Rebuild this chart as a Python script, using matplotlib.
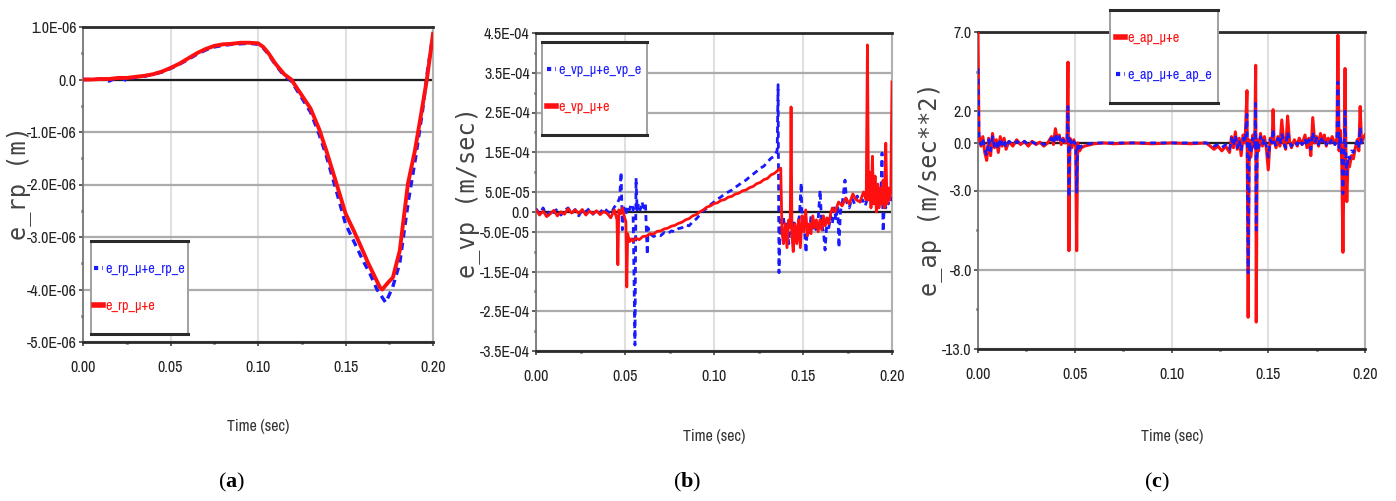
import matplotlib
matplotlib.use("Agg")
import matplotlib.pyplot as plt
from matplotlib.lines import Line2D
from matplotlib.patches import Rectangle
from matplotlib import font_manager
from matplotlib.font_manager import FontProperties

W, H = 1396, 501
plt.rcParams['mathtext.fontset'] = 'custom'
plt.rcParams['mathtext.rm'] = 'Liberation Serif'
plt.rcParams['mathtext.bf'] = 'Liberation Serif:bold'

RED = '#ff1010'
BLUE = '#1a1aff'


def narrow_font_path():
    """Return the file of an installed narrow/condensed sans face, if any."""
    rank = {'condensed': 0, 'semi-condensed': 1, 'extra-condensed': 2, 'ultra-condensed': 3}
    best, best_key = None, None
    for f in font_manager.fontManager.ttflist:
        nm = f.name.lower()
        st = str(f.stretch).lower()
        w = f.weight if isinstance(f.weight, int) else {'normal': 400, 'regular': 400}.get(str(f.weight), 0)
        if f.style != 'normal' or w != 400:
            continue
        if 'mono' in nm or 'serif' in nm.replace('sans', ''):
            continue
        if 'narrow' in nm:
            key = (-1, nm)
        elif st in rank:
            key = (rank[st], nm)
        elif 'condensed' in nm:
            key = (0, nm)
        else:
            continue
        if best_key is None or key < best_key:
            best, best_key = f.fname, key
    return best


NARROW_PATH = narrow_font_path()


def narrow(size):
    if NARROW_PATH:
        return FontProperties(fname=NARROW_PATH, size=size)
    return FontProperties(family='Liberation Sans', size=size * 0.8)


# ---------------- data: position error (x1e-6 m) ----------------
t_rp_red = [0.000, 0.005, 0.010, 0.015, 0.020, 0.025, 0.030, 0.035, 0.040, 0.045,
            0.050, 0.055, 0.060, 0.065, 0.070, 0.075, 0.080, 0.085, 0.090, 0.095,
            0.100, 0.103, 0.106, 0.110, 0.115, 0.119, 0.125, 0.130, 0.135, 0.139,
            0.145, 0.150, 0.155, 0.158, 0.163, 0.1697, 0.171, 0.174, 0.1771, 0.181,
            0.1857, 0.1897, 0.194, 0.1965, 0.200]
v_rp_red = [0.00, 0.00, 0.01, 0.01, 0.03, 0.03, 0.05, 0.07, 0.10, 0.15,
            0.22, 0.30, 0.40, 0.50, 0.58, 0.64, 0.67, 0.68, 0.70, 0.70,
            0.69, 0.62, 0.50, 0.30, 0.10, 0.00, -0.30, -0.55, -0.95, -1.35,
            -2.00, -2.55, -2.90, -3.12, -3.50, -3.96, -4.00, -3.88, -3.77, -3.26,
            -1.98, -1.35, -0.50, 0.00, 0.87]

t_rp_blue = [0.000, 0.005, 0.010, 0.015, 0.020, 0.025, 0.030, 0.035, 0.040, 0.045,
             0.050, 0.055, 0.060, 0.065, 0.070, 0.075, 0.080, 0.085, 0.090, 0.095,
             0.100, 0.103, 0.106, 0.110, 0.115, 0.119, 0.125, 0.130, 0.135, 0.139,
             0.145, 0.150, 0.155, 0.160, 0.164, 0.168, 0.173, 0.177, 0.181,
             0.186, 0.190, 0.194, 0.197, 0.200]
v_rp_blue = [0.00, 0.00, 0.01, -0.03, 0.05, -0.02, 0.05, 0.06, 0.10, 0.14,
             0.21, 0.29, 0.38, 0.48, 0.56, 0.62, 0.65, 0.67, 0.68, 0.69,
             0.67, 0.60, 0.48, 0.28, 0.07, -0.03, -0.35, -0.62, -1.05, -1.45,
             -2.15, -2.75, -3.10, -3.45, -3.70, -4.00, -4.25, -3.95, -3.50,
             -2.30, -1.50, -0.60, 0.20, 0.85]

# ---------------- data: velocity error (x1e-4 m/s) ----------------
t_vp_red = [0.000, 0.002, 0.004, 0.006, 0.008, 0.010, 0.012, 0.014, 0.016, 0.018,
            0.020, 0.022, 0.024, 0.026, 0.028, 0.030, 0.032, 0.034, 0.036, 0.038,
            0.040, 0.042, 0.044,
            0.0455, 0.0460, 0.0465, 0.0475, 0.0485, 0.0495, 0.0505, 0.0510, 0.0515, 0.0525,
            0.0535, 0.0545, 0.056, 0.058, 0.060, 0.062, 0.064, 0.066, 0.068, 0.070,
            0.072, 0.074, 0.076, 0.078, 0.080, 0.082, 0.084, 0.086, 0.088, 0.090,
            0.092, 0.094, 0.096, 0.098, 0.100, 0.102, 0.104, 0.106, 0.108, 0.110,
            0.112, 0.114, 0.116, 0.118, 0.120, 0.122, 0.124, 0.126, 0.128, 0.130,
            0.132, 0.134, 0.136, 0.1375, 0.1382,
            0.1390, 0.1400, 0.1410, 0.1420, 0.1428, 0.1433, 0.1438, 0.1445, 0.1455, 0.1465,
            0.1475, 0.1485, 0.1495, 0.1505, 0.1515, 0.1525, 0.1535, 0.1545, 0.1555, 0.1565,
            0.1575, 0.1585, 0.1595, 0.1605, 0.1615, 0.1625, 0.1635, 0.1645, 0.1655, 0.1665,
            0.1680, 0.1700, 0.1720, 0.1740, 0.1760, 0.1780, 0.1800, 0.1820, 0.1840, 0.1855,
            0.1862, 0.1868, 0.1875, 0.1882, 0.1890, 0.1897, 0.1905, 0.1912, 0.1920, 0.1927,
            0.1935, 0.1942, 0.1950, 0.1957, 0.1965, 0.1972, 0.1980, 0.1987, 0.1993, 0.2000]
v_vp_red = [0.05, -0.08, 0.02, -0.12, -0.05, 0.04, -0.10, 0.00, -0.06, 0.08,
            -0.03, 0.05, -0.04, 0.06, -0.08, 0.02, -0.05, 0.03, -0.07, 0.01,
            -0.04, -0.15, 0.05,
            -0.20, -1.33, 0.05, -0.05, 0.10, -0.10, -0.25, -1.89, -0.55, -0.75,
            -0.68, -0.74, -0.66, -0.70, -0.62, -0.61, -0.55, -0.56, -0.49, -0.48,
            -0.43, -0.41, -0.36, -0.34, -0.29, -0.26, -0.20, -0.17, -0.10, -0.07,
            0.00, 0.05, 0.12, 0.15, 0.21, 0.23, 0.29, 0.31, 0.37, 0.39,
            0.45, 0.47, 0.53, 0.55, 0.61, 0.64, 0.71, 0.74, 0.81, 0.84,
            0.93, 0.97, 1.05, 1.10, -0.50,
            -0.80, -0.30, -0.90, -0.20, -0.40, 2.64, -0.60, -1.00, -0.30, -0.80,
            -0.20, -0.90, -0.10, -0.50, 0.05, -0.60, -0.30, -0.55, -0.10, -0.40,
            -0.20, -0.50, -0.20, -0.45, -0.10, -0.35, -0.15, -0.30, -0.05, 0.10,
            0.00, 0.25, 0.15, 0.35, 0.20, 0.45, 0.30, 0.25, 0.50, 0.30,
            4.20, 0.30, 1.00, 0.10, 1.40, 0.20, 0.90, 0.00, 0.70, 0.10,
            0.60, 0.20, 0.80, 0.10, 1.73, 0.20, 0.60, 0.30, 0.50, 3.27]

t_vp_blue = [0.000, 0.002, 0.004, 0.006, 0.008, 0.010, 0.012, 0.014, 0.016, 0.018,
             0.020, 0.022, 0.024, 0.026, 0.028, 0.030, 0.032, 0.034, 0.036, 0.038,
             0.040, 0.042, 0.044,
             0.0455, 0.0470, 0.0478, 0.0485, 0.0495, 0.0505, 0.0515, 0.0525, 0.0535, 0.0545,
             0.0556, 0.0562, 0.0568, 0.0575, 0.0585, 0.0595, 0.0605, 0.0615, 0.0625, 0.0630,
             0.0640,
             0.066, 0.068, 0.070, 0.072, 0.074, 0.076, 0.078, 0.080, 0.082, 0.084,
             0.086, 0.088, 0.090, 0.092, 0.094, 0.096, 0.098, 0.100, 0.102, 0.104,
             0.106, 0.108, 0.110, 0.112, 0.114, 0.116, 0.118, 0.120, 0.122, 0.124,
             0.126, 0.128, 0.130, 0.132, 0.134, 0.1355,
             0.1360, 0.1365, 0.1372, 0.1380, 0.1390, 0.1400, 0.1410, 0.1420, 0.1430, 0.1440,
             0.1450, 0.1460, 0.1470, 0.1480, 0.1490, 0.1495, 0.1505, 0.1517, 0.1525, 0.1535,
             0.1545, 0.1555, 0.1565, 0.1575, 0.1585, 0.1596, 0.1605, 0.1615, 0.1624, 0.1635,
             0.1645, 0.1655, 0.1665, 0.1675, 0.1685, 0.1695, 0.1702, 0.1710, 0.1720, 0.1736,
             0.1745, 0.1760, 0.1775, 0.1790, 0.1805, 0.1820, 0.1835, 0.1850, 0.1865, 0.1880,
             0.1895, 0.1910, 0.1925, 0.1937, 0.1944, 0.1950, 0.1958, 0.1965, 0.1972, 0.1980,
             0.1988, 0.1995, 0.2000]
v_vp_blue = [0.08, -0.05, 0.10, -0.10, 0.04, -0.02, 0.08, -0.08, 0.03, 0.10,
             -0.04, 0.06, -0.10, 0.05, 0.00, 0.09, -0.06, 0.04, -0.03, 0.10,
             0.02, -0.05, 0.12,
             0.20, 0.35, 1.00, -0.45, 0.10, -0.05, 0.15, 0.05, 0.20, 0.10,
             -3.35, 0.85, 0.05, 0.20, 0.05, 0.25, 0.10, 0.20, -1.08, -0.40,
             -0.55,
             -0.62, -0.58, -0.60, -0.52, -0.55, -0.48, -0.50, -0.42, -0.40, -0.33,
             -0.35, -0.25, -0.18, -0.08, 0.02, 0.10, 0.18, 0.25, 0.32, 0.38,
             0.45, 0.50, 0.55, 0.62, 0.68, 0.75, 0.80, 0.88, 0.95, 1.02,
             1.10, 1.15, 1.25, 1.35, 1.40, 1.55,
             3.20, -1.53, -0.20, -0.60, -0.10, -0.70, -0.30, -0.80, -0.15, -0.55,
             -0.20, -0.65, -0.30, -0.10, 0.73, -0.40, -0.20, -1.03, -0.30, -0.60,
             -0.10, -0.45, -0.25, -0.50, -0.20, 0.55, -0.30, -0.50, -0.96, -0.20,
             -0.40, -0.10, -0.30, 0.10, -0.20, 0.15, -0.90, 0.00, 0.20, 0.80,
             0.25, 0.10, 0.35, 0.20, 0.40, 0.25, 0.30, 0.15, 0.40, 0.30,
             0.20, 0.45, 0.25, 0.35, 1.48, -0.50, 0.30, 0.10, 0.40, 0.20,
             0.50, 0.30, 2.00]

# ---------------- data: acceleration error (m/s^2) ----------------
t_ap = [0.0000, 0.0005, 0.0015, 0.0025, 0.0035, 0.0045, 0.0055, 0.0065, 0.0075, 0.0085,
        0.0095, 0.0105, 0.0115, 0.0125, 0.0135, 0.0145, 0.0160, 0.0180, 0.0200, 0.0220,
        0.0240, 0.0260, 0.0280, 0.0300, 0.0320, 0.0340, 0.0360, 0.0380, 0.0390, 0.0400,
        0.0410, 0.0420, 0.0430, 0.0440, 0.0450, 0.0460, 0.0465, 0.0470, 0.0475, 0.0485,
        0.0495, 0.0505, 0.0510, 0.0515, 0.0525, 0.0535, 0.0550, 0.0600, 0.0650, 0.0700,
        0.0800, 0.0900, 0.1000, 0.1100, 0.1180, 0.1200, 0.1220, 0.1240, 0.1260, 0.1280,
        0.1300, 0.1310, 0.1320, 0.1330, 0.1340, 0.1350, 0.1360, 0.1370, 0.1380, 0.1390,
        0.1396, 0.1402, 0.1410, 0.1420, 0.1430, 0.1435, 0.1438, 0.1443, 0.1450, 0.1460,
        0.1470, 0.1480, 0.1490, 0.1500, 0.1510, 0.1520, 0.1525, 0.1530, 0.1540, 0.1550,
        0.1560, 0.1570, 0.1580, 0.1590, 0.1600, 0.1610, 0.1620, 0.1635, 0.1650, 0.1660,
        0.1675, 0.1690, 0.1700, 0.1710, 0.1720, 0.1730, 0.1740, 0.1750, 0.1760, 0.1770,
        0.1780, 0.1790, 0.1800, 0.1810, 0.1820, 0.1830, 0.1845, 0.1855, 0.1860, 0.1866,
        0.1872, 0.1880, 0.1886, 0.1892, 0.1897, 0.1902, 0.1906, 0.1912, 0.1920, 0.1930,
        0.1940, 0.1950, 0.1960, 0.1968, 0.1975, 0.1982, 0.1990, 0.2000]
v_ap_red = [7.0, 0.5, -0.2, 0.4, -0.6, -1.1, 0.3, -0.8, 0.6, -0.3,
            0.2, -0.6, 0.4, -0.2, 0.3, -0.4, 0.1, -0.2, 0.2, -0.1,
            0.1, -0.2, 0.1, -0.1, 0.05, -0.2, 0.0, 0.4, -0.1, 0.9,
            0.2, 0.5, -0.1, 0.3, 0.0, 0.2, 5.1, -6.8, 0.3, -0.3,
            0.2, -0.2, -6.8, 0.0, -0.5, -0.3, -0.2, -0.05, 0.0, -0.05,
            0.0, -0.05, 0.0, -0.05, 0.0, -0.2, -0.4, -0.2, -0.5, -0.2,
            -0.6, 0.4, -0.3, 0.7, -0.4, 0.3, -0.8, 0.5, 0.0, 3.3,
            -11.0, 0.2, -0.9, 0.5, -0.3, 4.9, -11.3, 0.2, -0.5, 0.6,
            -0.2, 0.4, -0.3, -1.7, 0.3, 0.0, 2.1, 0.2, -0.3, 0.4,
            -0.2, 1.45, 0.0, -0.4, 1.7, 0.1, -0.3, 0.2, -0.2, 0.3,
            -0.1, 0.5, -0.3, 0.3, -0.8, 1.6, 0.0, 0.4, -0.2, 0.6,
            0.1, 0.5, -0.2, 0.3, 0.0, 0.4, -0.1, 0.3, 6.8, -0.5,
            0.8, -1.2, -6.9, -0.8, 4.7, -1.5, -3.7, -1.2, -1.5, -0.8,
            -1.0, -0.3, 0.2, -0.5, 2.3, 0.0, 0.3, 0.5]
v_ap_blue = [4.7, 0.4, -0.1, 0.3, -0.4, -0.8, 0.2, -0.5, 0.4, -0.2,
             0.1, -0.4, 0.3, -0.1, 0.2, -0.3, 0.1, -0.1, 0.1, -0.1,
             0.1, -0.1, 0.05, -0.05, 0.05, -0.1, 0.0, 0.3, -0.05, 0.6,
             0.1, 0.4, -0.05, 0.2, 0.0, 0.1, 2.3, -3.4, 0.2, -0.2,
             0.1, -0.1, -3.1, 0.0, -0.3, -0.2, -0.1, 0.0, 0.0, 0.0,
             0.0, 0.0, 0.0, 0.0, 0.0, -0.1, -0.2, -0.1, -0.3, -0.1,
             -0.4, 0.3, -0.2, 0.5, -0.3, 0.2, -0.5, 0.3, 0.0, 1.8,
             -8.2, 0.1, -0.6, 0.3, -0.2, 2.5, -5.5, 0.1, -0.3, 0.4,
             -0.1, 0.3, -0.2, -0.9, 0.2, 0.0, 0.9, 0.1, -0.2, 0.3,
             -0.1, 0.6, 0.0, -0.3, 0.7, 0.1, -0.2, 0.1, -0.1, 0.2,
             -0.1, 0.3, -0.2, 0.2, -0.4, 0.7, 0.0, 0.3, -0.1, 0.4,
             0.1, 0.3, -0.1, 0.2, 0.0, 0.3, -0.1, 0.2, 3.85, -0.3,
             0.5, -0.8, -3.2, -0.6, 2.0, -1.0, -2.0, -0.8, -1.0, -0.5,
             -0.6, -0.2, 0.1, -0.3, 1.0, 0.0, 0.2, 0.3]

# ---------------- ticks ----------------
x_ticks = [0.0, 0.05, 0.10, 0.15, 0.20]
x_ticklabels = ['0.00', '0.05', '0.10', '0.15', '0.20']
x_minor = [0.025, 0.075, 0.125, 0.175]

rp_ticks = [1.0, 0.0, -1.0, -2.0, -3.0, -4.0, -5.0]
rp_ticklabels = ['1.0E-06', '0.0', '-1.0E-06', '-2.0E-06', '-3.0E-06', '-4.0E-06', '-5.0E-06']
rp_minor = [0.5, -0.5, -1.5, -2.5, -3.5, -4.5]

vp_ticks = [4.5, 3.5, 2.5, 1.5, 0.5, 0.0, -0.5, -1.5, -2.5, -3.5]
vp_ticklabels = ['4.5E-04', '3.5E-04', '2.5E-04', '1.5E-04', '5.0E-05', '0.0',
                 '-5.0E-05', '-1.5E-04', '-2.5E-04', '-3.5E-04']
vp_minor = [4.0, 3.0, 2.0, 1.0, -1.0, -2.0, -3.0]

ap_ticks = [7.0, 2.0, 0.0, -3.0, -8.0, -13.0]
ap_ticklabels = ['7.0', '2.0', '0.0', '-3.0', '-8.0', '-13.0']
ap_minor = [4.5, -5.5, -10.5]

TICK_SIZE = 11.5


def fx(x):
    return x / W


def fy(y):
    return 1 - y / H


def make_axes(left, top, right, bottom):
    return fig.add_axes([fx(left), fy(bottom), (right - left) / W, (bottom - top) / H])


def style(ax, ylim, yticks, ylabels, yminor):
    ax.set_xlim(0, 0.2)
    ax.set_ylim(*ylim)
    ax.set_xticks(x_ticks)
    ax.set_xticklabels(x_ticklabels, fontproperties=narrow(TICK_SIZE), color='#222')
    ax.set_xticks(x_minor, minor=True)
    ax.set_yticks(yticks)
    ax.set_yticklabels(ylabels, fontproperties=narrow(TICK_SIZE), color='#222')
    ax.set_yticks(yminor, minor=True)
    ax.tick_params(which='major', length=3, width=1.2, color='#444', pad=1.5)
    ax.tick_params(axis='x', which='major', pad=10)
    ax.tick_params(which='minor', length=1.6, width=2.0, color='#444')
    ax.yaxis.grid(True, which='major', color='#ababab', lw=1.6, zorder=0)
    ax.xaxis.grid(True, which='major', color='#e0e0e0', lw=1.5, zorder=0)
    ax.set_axisbelow(True)
    ax.axhline(0, color='#1e1e1e', lw=1.6, zorder=1)
    for side in ('top', 'bottom'):
        ax.spines[side].set_color('#2a2a2a')
        ax.spines[side].set_linewidth(2.0)
    ax.spines['left'].set_color('#777')
    ax.spines['left'].set_linewidth(1.3)
    ax.spines['right'].set_color('#b0b0b0')
    ax.spines['right'].set_linewidth(1.5)


fig = plt.figure(figsize=(W / 100, H / 100), dpi=100)

ax_a = make_axes(83, 27, 433, 342)
ax_b = make_axes(536, 33, 892, 351)
ax_c = make_axes(978, 32, 1365, 349)

# (a) position error
style(ax_a, (-5.0, 1.0), rp_ticks, rp_ticklabels, rp_minor)
ax_a.plot(t_rp_blue, v_rp_blue, color=BLUE, lw=2.4, ls=(0, (2.2, 1.6)), zorder=3)
ax_a.plot(t_rp_red, v_rp_red, color=RED, lw=2.8, zorder=4)

# (b) velocity error
style(ax_b, (-3.5, 4.5), vp_ticks, vp_ticklabels, vp_minor)
ax_b.plot(t_vp_blue, v_vp_blue, color=BLUE, lw=2.0, ls=(0, (2.2, 1.6)), zorder=3)
ax_b.plot(t_vp_red, v_vp_red, color=RED, lw=2.0, zorder=4)

# (c) acceleration error
style(ax_c, (-13.0, 7.0), ap_ticks, ap_ticklabels, ap_minor)
ax_c.plot(t_ap, v_ap_red, color=RED, lw=2.2, zorder=3)
ax_c.plot(t_ap, v_ap_blue, color=BLUE, lw=2.0, ls=(0, (2.0, 1.8)), zorder=4)

blue_h = Line2D([], [], color=BLUE, lw=3, ls=(0, (1, 1, 3, 1)))
red_h = Line2D([], [], color=RED, lw=4)


def add_legend(ax, handles, labels, left, top, right, bottom):
    """Boxed legend: white panel with grey sides and heavy top/bottom rules."""
    x0, x1, y0, y1 = fx(left), fx(right), fy(bottom), fy(top)
    fig.add_artist(Rectangle((x0, y0), x1 - x0, y1 - y0, transform=fig.transFigure,
                             facecolor='white', edgecolor='#a0a0a0', lw=1.4, zorder=9))
    for yy in (y0, y1):
        fig.add_artist(Line2D([x0, x1], [yy, yy], transform=fig.transFigure,
                              color='#2a2a2a', lw=2.2, zorder=9.5))
    leg = fig.legend(handles, labels, loc='center',
                     bbox_to_anchor=((x0 + x1) / 2, (y0 + y1) / 2),
                     bbox_transform=fig.transFigure,
                     prop=narrow(10.2), labelcolor='linecolor', frameon=False,
                     handlelength=0.65, handletextpad=0.15,
                     labelspacing=1.6, borderpad=0.0)
    leg.set_zorder(10)
    return leg


add_legend(ax_a, [blue_h, red_h], ['e_rp_μ+e_rp_e', 'e_rp_μ+e'], 91, 241, 188, 334)
add_legend(ax_b, [blue_h, red_h], ['e_vp_μ+e_vp_e', 'e_vp_μ+e'], 542, 42, 647, 135)
add_legend(ax_c, [red_h, blue_h], ['e_ap_μ+e', 'e_ap_μ+e_ap_e'], 1110, 10, 1218, 103)

# axis titles and captions
LAB = dict(family='DejaVu Sans Mono', size=17, color='#444', rotation=90,
           ha='center', va='center')
fig.text(fx(19), fy(183), 'e_rp (m)', **LAB)
fig.text(fx(468), fy(192), 'e_vp (m/sec)', **LAB)
fig.text(fx(930), fy(189), 'e_ap (m/sec**2)', **LAB)

XL = dict(color='#333', ha='center', va='center', fontproperties=narrow(11.5))
fig.text(fx(258), fy(427), 'Time (sec)', **XL)
fig.text(fx(714), fy(437), 'Time (sec)', **XL)
fig.text(fx(1172), fy(437), 'Time (sec)', **XL)

CAP = dict(size=16, color='black', ha='center', va='center')
fig.text(fx(232), fy(482), r'$(\mathbf{a})$', **CAP)
fig.text(fx(687), fy(482), r'$(\mathbf{b})$', **CAP)
fig.text(fx(1157), fy(482), r'$(\mathbf{c})$', **CAP)

fig.savefig('out.png', dpi=100)
